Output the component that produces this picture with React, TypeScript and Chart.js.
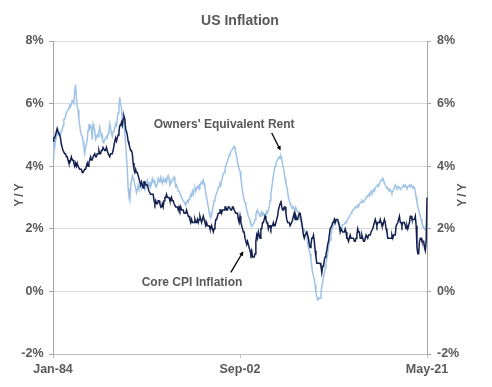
import { useEffect, useRef } from "react";
import { Chart, registerables } from "chart.js";

Chart.register(...registerables);

const FONT = "'Liberation Sans Narrow', 'Arial Narrow', sans-serif";
const TEXT = "#595959";

const chartTitle = "US Inflation";
const axisTitle = "Y/Y";
const startYear = 1984;
const monthNames = ["Jan", "Feb", "Mar", "Apr", "May", "Jun", "Jul", "Aug", "Sep", "Oct", "Nov", "Dec"];
const xTickLabels = ["Jan-84", "Sep-02", "May-21"];
const yMin = -2;
const yMax = 8;
const yStep = 2;

// Core CPI inflation, Y/Y %, monthly Jan-84 .. May-21
const coreCPI = [
  4.8, 4.9, 4.9, 5.0, 5.1, 5.2, 5.1, 5.1, 5.0, 4.9, 4.7, 4.6,
  4.5, 4.5, 4.4, 4.4, 4.3, 4.3, 4.2, 4.1, 4.1, 4.2, 4.3, 4.2,
  4.2, 4.1, 4.0, 4.1, 4.0, 4.1, 4.0, 4.0, 3.9, 3.9, 3.9, 3.8,
  3.8, 3.8, 3.9, 3.9, 4.0, 4.1, 4.0, 4.1, 4.2, 4.3, 4.2, 4.2,
  4.3, 4.3, 4.4, 4.3, 4.3, 4.4, 4.4, 4.5, 4.4, 4.4, 4.5, 4.5,
  4.6, 4.6, 4.5, 4.5, 4.6, 4.5, 4.4, 4.4, 4.3, 4.4, 4.4, 4.4,
  4.5, 4.5, 4.8, 4.9, 4.8, 4.9, 5.0, 5.1, 5.3, 5.3, 5.4, 5.3,
  5.5, 5.6, 5.5, 5.2, 5.1, 5.0, 4.8, 4.7, 4.6, 4.5, 4.5, 4.4,
  4.1, 3.9, 3.8, 3.9, 3.8, 3.8, 3.7, 3.7, 3.5, 3.4, 3.5, 3.4,
  3.3, 3.5, 3.5, 3.4, 3.4, 3.4, 3.3, 3.2, 3.2, 3.1, 3.1, 3.1,
  3.1, 2.9, 2.8, 2.9, 2.8, 2.8, 2.9, 2.9, 2.8, 2.7, 2.7, 2.8,
  2.7, 2.9, 3.0, 3.0, 3.1, 3.0, 3.0, 3.0, 2.9, 2.9, 3.0, 2.9,
  2.9, 2.8, 2.8, 2.7, 2.7, 2.7, 2.6, 2.7, 2.6, 2.7, 2.6, 2.6,
  2.6, 2.5, 2.5, 2.5, 2.6, 2.5, 2.4, 2.4, 2.3, 2.2, 2.3, 2.2,
  2.2, 2.2, 2.3, 2.2, 2.2, 2.3, 2.2, 2.3, 2.4, 2.3, 2.2, 2.3,
  2.4, 2.3, 2.2, 2.1, 2.2, 2.1, 2.1, 2.1, 2.0, 2.0, 2.1, 2.0,
  1.9, 2.0, 2.1, 2.3, 2.3, 2.4, 2.5, 2.5, 2.6, 2.6, 2.5, 2.6,
  2.6, 2.6, 2.7, 2.7, 2.6, 2.6, 2.7, 2.7, 2.7, 2.6, 2.6, 2.7,
  2.7, 2.6, 2.6, 2.5, 2.5, 2.5, 2.3, 2.2, 2.4, 2.2, 2.1, 2.0,
  1.9, 1.9, 1.7, 1.7, 1.5, 1.6, 1.5, 1.4, 1.3, 1.2, 1.3, 1.1,
  1.1, 1.1, 1.2, 1.6, 1.8, 1.7, 1.9, 1.8, 1.7, 2.0, 2.0, 2.2,
  2.2, 2.3, 2.4, 2.3, 2.2, 2.2, 2.0, 2.1, 2.1, 2.0, 2.1, 2.1,
  2.2, 2.1, 2.1, 2.1, 2.3, 2.4, 2.6, 2.7, 2.8, 2.9, 2.7, 2.6,
  2.6, 2.7, 2.7, 2.5, 2.3, 2.2, 2.2, 2.2, 2.1, 2.1, 2.2, 2.3,
  2.4, 2.5, 2.3, 2.4, 2.3, 2.3, 2.4, 2.5, 2.5, 2.5, 2.2, 2.0,
  1.8, 1.7, 1.8, 1.8, 1.9, 1.8, 1.7, 1.5, 1.4, 1.5, 1.7, 1.7,
  1.8, 1.6, 1.3, 1.1, 0.9, 0.9, 0.9, 0.9, 0.9, 0.8, 0.6, 0.8,
  0.8, 1.0, 1.1, 1.2, 1.3, 1.5, 1.6, 1.8, 2.0, 2.0, 2.1, 2.2,
  2.2, 2.3, 2.2, 2.3, 2.3, 2.3, 2.2, 2.1, 1.9, 2.0, 2.0, 1.9,
  1.9, 1.9, 2.0, 1.9, 1.7, 1.7, 1.6, 1.7, 1.8, 1.7, 1.7, 1.7,
  1.7, 1.6, 1.6, 1.7, 1.8, 2.0, 1.9, 1.9, 1.7, 1.7, 1.8, 1.7,
  1.6, 1.6, 1.7, 1.8, 1.8, 1.7, 1.8, 1.8, 1.8, 1.9, 1.9, 2.0,
  2.1, 2.2, 2.3, 2.2, 2.1, 2.2, 2.2, 2.2, 2.3, 2.2, 2.1, 2.1,
  2.2, 2.3, 2.2, 2.0, 1.9, 1.7, 1.7, 1.7, 1.7, 1.7, 1.8, 1.7,
  1.8, 1.8, 1.8, 2.1, 2.1, 2.2, 2.3, 2.4, 2.2, 2.2, 2.1, 2.2,
  2.2, 2.2, 2.1, 2.0, 2.1, 2.0, 2.1, 2.2, 2.4, 2.4, 2.3, 2.3,
  2.3, 2.3, 2.4, 2.1, 1.4, 1.2, 1.2, 1.6, 1.7, 1.7, 1.6, 1.6,
  1.6, 1.4, 1.3, 1.6, 3.0,
];

// Owners' Equivalent Rent, Y/Y %, monthly Jan-84 .. May-21
const ownersEquivRent = [
  4.3, 4.7, 4.6, 4.8, 4.95, 5.15, 5.0, 5.1, 5.05, 5.0, 5.1, 5.15,
  5.3, 5.5, 5.5, 5.6, 5.7, 5.75, 5.8, 5.85, 5.95, 5.9, 6.0, 6.1,
  6.05, 6.0, 6.4, 6.6, 6.2, 5.9, 5.8, 5.5, 5.3, 5.1, 5.0, 4.95,
  4.8, 4.6, 4.4, 4.6, 4.7, 4.85, 5.15, 5.35, 5.2, 5.3, 5.25, 4.85,
  5.35, 5.25, 5.15, 4.85, 4.9, 5.0, 4.95, 5.1, 5.25, 5.1, 4.95, 5.0,
  4.75, 4.8, 4.85, 4.9, 4.95, 4.9, 5.05, 5.15, 5.35, 5.2, 5.05, 4.95,
  5.1, 5.15, 5.2, 5.35, 5.3, 5.5, 5.7, 5.9, 6.2, 5.95, 5.9, 5.4,
  5.6, 5.3, 5.1, 4.7, 4.3, 3.9, 3.3, 3.0, 2.9, 3.3, 3.55, 3.7,
  3.6, 3.55, 3.4, 3.3, 3.15, 3.25, 3.4, 3.3, 3.35, 3.4, 3.3, 3.45,
  3.45, 3.35, 3.25, 3.3, 3.4, 3.55, 3.45, 3.35, 3.5, 3.35, 3.45, 3.6,
  3.5, 3.55, 3.45, 3.4, 3.35, 3.45, 3.6, 3.5, 3.55, 3.65, 3.5, 3.45,
  3.6, 3.5, 3.55, 3.6, 3.5, 3.65, 3.7, 3.6, 3.4, 3.45, 3.5, 3.55,
  3.6, 3.65, 3.5, 3.35, 3.4, 3.3, 3.2, 3.2, 3.15, 3.05, 3.0, 2.95,
  2.9, 2.85, 2.8, 2.75, 2.85, 2.9, 2.85, 2.95, 3.0, 3.1, 3.05, 3.2,
  3.1, 3.25, 3.3, 3.2, 3.3, 3.35, 3.3, 3.4, 3.35, 3.45, 3.5, 3.45,
  3.55, 3.45, 3.3, 3.15, 3.0, 2.85, 2.7, 2.55, 2.4, 2.35, 2.45, 2.6,
  2.75, 2.9, 3.0, 3.05, 3.15, 3.2, 3.3, 3.35, 3.45, 3.4, 3.55, 3.65,
  3.75, 3.8, 3.9, 4.0, 4.1, 4.15, 4.25, 4.35, 4.4, 4.45, 4.5, 4.55,
  4.6, 4.63, 4.55, 4.45, 4.3, 4.15, 4.0, 3.9, 3.85, 3.6, 3.4, 3.2,
  3.05, 2.9, 2.85, 2.75, 2.6, 2.5, 2.4, 2.35, 2.25, 2.15, 2.1, 2.1,
  2.15, 2.2, 2.3, 2.45, 2.55, 2.6, 2.5, 2.45, 2.4, 2.5, 2.55, 2.45,
  2.5, 2.45, 2.35, 2.45, 2.55, 2.5, 2.6, 2.7, 2.9, 3.1, 3.3, 3.5,
  3.7, 3.85, 4.0, 4.1, 4.15, 4.2, 4.25, 4.3, 4.25, 4.33, 4.25, 4.05,
  3.95, 3.8, 3.6, 3.45, 3.35, 3.2, 3.0, 2.9, 2.82, 2.75, 2.7, 2.65,
  2.7, 2.65, 2.6, 2.66, 2.6, 2.55, 2.55, 2.45, 2.3, 2.25, 2.1, 2.05,
  2.0, 1.97, 1.9, 1.86, 1.8, 1.55, 1.4, 1.3, 1.2, 1.0, 0.8, 0.6,
  0.5, 0.37, 0.2, -0.05, -0.15, -0.27, -0.25, -0.2, -0.21, -0.05, 0.16, 0.3,
  0.45, 0.59, 0.75, 0.9, 1.05, 1.22, 1.4, 1.55, 1.65, 1.8, 1.97, 2.05,
  2.1, 2.13, 2.2, 2.23, 2.25, 2.2, 2.2, 2.1, 2.05, 2.02, 2.1, 2.13,
  2.13, 2.15, 2.2, 2.2, 2.25, 2.3, 2.35, 2.39, 2.45, 2.5, 2.55, 2.6,
  2.6, 2.65, 2.7, 2.71, 2.7, 2.75, 2.71, 2.8, 2.82, 2.85, 2.9, 2.85,
  2.85, 2.9, 2.95, 3.0, 3.03, 3.05, 3.1, 3.05, 3.15, 3.2, 3.14, 3.2,
  3.25, 3.2, 3.3, 3.35, 3.35, 3.4, 3.35, 3.45, 3.5, 3.55, 3.56, 3.62,
  3.55, 3.45, 3.4, 3.35, 3.3, 3.3, 3.25, 3.2, 3.25, 3.2, 3.14, 3.2,
  3.25, 3.3, 3.4, 3.35, 3.3, 3.35, 3.35, 3.3, 3.25, 3.3, 3.3, 3.35,
  3.4, 3.35, 3.4, 3.35, 3.3, 3.35, 3.35, 3.4, 3.35, 3.4, 3.4, 3.3,
  3.35, 3.3, 3.19, 3.0, 2.85, 2.71, 2.6, 2.5, 2.4, 2.3, 2.18, 2.1,
  2.07, 2.0, 1.97, 1.97, 2.0,
];

const categories: string[] = coreCPI.map((_, i) => {
  const y = startYear + Math.floor(i / 12);
  return `${monthNames[i % 12]}-${String(y % 100).padStart(2, "0")}`;
});

// Annotations anchored in data coordinates: [category index, value]
const annotations = [
  { text: "Owners' Equivalent Rent", at: [205, 5.32], arrowFrom: [262, 5.06], arrowTo: [272.7, 4.5] },
  { text: "Core CPI Inflation", at: [166.5, 0.29], arrowFrom: [213, 0.61], arrowTo: [228, 1.28] },
];

const overlay = {
  id: "overlay",
  afterDraw(chart: any) {
    const { ctx, chartArea: ca, scales } = chart;
    const xs = scales.x;
    const ys = scales.y;
    ctx.save();
    ctx.fillStyle = TEXT;
    ctx.textAlign = "center";
    ctx.textBaseline = "middle";
    ctx.font = `bold 14px ${FONT}`;
    ctx.fillText(chartTitle, (ca.left + ca.right) / 2, 21);

    ctx.font = `bold 12px ${FONT}`;
    (ctx as any).letterSpacing = "2px";
    for (const px of [20, 463]) {
      ctx.save();
      ctx.translate(px, 194);
      ctx.rotate(-Math.PI / 2);
      ctx.fillText(axisTitle, 0, 0);
      ctx.restore();
    }
    (ctx as any).letterSpacing = "0px";

    ctx.font = `bold 12px ${FONT}`;
    for (const a of annotations) {
      ctx.fillStyle = TEXT;
      ctx.fillText(a.text, xs.getPixelForValue(a.at[0]), ys.getPixelForValue(a.at[1]));
      const x1 = xs.getPixelForValue(a.arrowFrom[0]);
      const y1 = ys.getPixelForValue(a.arrowFrom[1]);
      const x2 = xs.getPixelForValue(a.arrowTo[0]);
      const y2 = ys.getPixelForValue(a.arrowTo[1]);
      const ang = Math.atan2(y2 - y1, x2 - x1);
      const head = 5;
      ctx.strokeStyle = "#000000";
      ctx.fillStyle = "#000000";
      ctx.lineWidth = 1.3;
      ctx.beginPath();
      ctx.moveTo(x1, y1);
      ctx.lineTo(x2 - Math.cos(ang) * head * 0.8, y2 - Math.sin(ang) * head * 0.8);
      ctx.stroke();
      ctx.beginPath();
      ctx.moveTo(x2, y2);
      ctx.lineTo(x2 - head * Math.cos(ang - 0.45), y2 - head * Math.sin(ang - 0.45));
      ctx.lineTo(x2 - head * Math.cos(ang + 0.45), y2 - head * Math.sin(ang + 0.45));
      ctx.closePath();
      ctx.fill();
    }
    ctx.restore();
  },
};

export default function App() {
  const ref = useRef<HTMLCanvasElement | null>(null);

  useEffect(() => {
    if (!ref.current) return;
    const tickFont = { family: FONT, size: 12.5, weight: "bold" as const };
    const yTickCb = (v: any) => `${v}%`;
    const chart = new Chart(ref.current, {
      type: "line",
      data: {
        labels: categories,
        datasets: [
          {
            label: "Core CPI Inflation",
            data: coreCPI,
            borderColor: "#131f4f",
            borderWidth: 1.5,
            pointRadius: 0,
            tension: 0,
            yAxisID: "y",
          },
          {
            label: "Owners' Equivalent Rent",
            data: ownersEquivRent,
            borderColor: "#9fc3e7",
            borderWidth: 1.5,
            pointRadius: 0,
            tension: 0,
            yAxisID: "y",
          },
        ],
      },
      options: {
        responsive: false,
        animation: false,
        devicePixelRatio: 1,
        layout: { padding: { top: 41, left: 0, right: 0, bottom: 0 } },
        plugins: {
          legend: { display: false },
          tooltip: { enabled: false },
          title: { display: false },
        },
        scales: {
          x: {
            type: "category",
            offset: false,
            afterFit: (s: any) => {
              s.height = 33;
            },
            grid: {
              display: true,
              drawOnChartArea: false,
              drawTicks: true,
              tickLength: 4,
              color: "#bfbfbf",
            },
            border: { display: true, color: "#bfbfbf" },
            ticks: {
              autoSkip: false,
              maxRotation: 0,
              minRotation: 0,
              padding: 4,
              color: TEXT,
              font: tickFont,
              callback: (_v: any, i: number) => (xTickLabels.includes(categories[i]) ? categories[i] : null),
            },
          },
          y: {
            type: "linear",
            position: "left",
            min: yMin,
            max: yMax,
            afterFit: (s: any) => {
              s.width = 53;
            },
            grid: { color: "#d9d9d9", tickColor: "#a6a6a6", tickLength: 4 },
            border: { display: true, color: "#a6a6a6" },
            ticks: { stepSize: yStep, padding: 5.5, color: TEXT, font: tickFont, callback: yTickCb },
          },
          y2: {
            type: "linear",
            position: "right",
            min: yMin,
            max: yMax,
            afterFit: (s: any) => {
              s.width = 65;
            },
            grid: { drawOnChartArea: false, color: "#a6a6a6", tickLength: 4 },
            border: { display: true, color: "#a6a6a6" },
            ticks: { stepSize: yStep, padding: 6, color: TEXT, font: tickFont, callback: yTickCb },
          },
        },
      },
      plugins: [overlay],
    });
    return () => chart.destroy();
  }, []);

  return (
    <div style={{ position: "fixed", left: 0, top: 0, width: 492, height: 387, background: "#ffffff" }}>
      <canvas ref={ref} width={492} height={387} />
    </div>
  );
}
